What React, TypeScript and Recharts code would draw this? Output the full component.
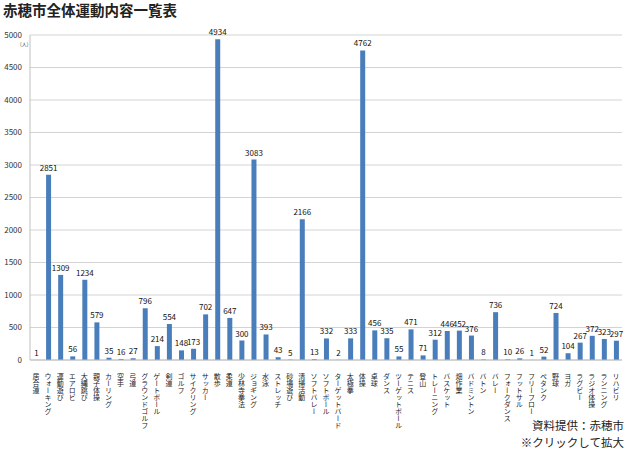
import React from 'react';
import { BarChart, Bar, XAxis, YAxis, CartesianGrid, LabelList } from 'recharts';

const categories = [
  '居合道', 'ウォーキング', '運動遊び', 'エアロビ', '大縄跳び', '親子体操', 'カーリング', '空手', '弓道',
  'グラウンドゴルフ', 'ゲートボール', '剣道', 'ゴルフ', 'サイクリング', 'サッカー', '散歩', '柔道',
  '少林寺拳法', 'ジョギング', '水泳', 'ストレッチ', '砂場遊び', '清掃活動', 'ソフトバレー', 'ソフトボール',
  'ターゲットバード', '太極拳', '体操', '卓球', 'ダンス', 'ツーゲットボール', 'テニス', '登山', 'トレーニング',
  'バスケット', '畑作業', 'バドミントン', 'バトン', 'バレー', 'フォークダンス', 'フットサル', 'フリーフロー',
  'ペタンク', '野球', 'ヨガ', 'ラグビー', 'ラジオ体操', 'ランニング', 'リハビリ',
];

const counts = [
  1, 2851, 1309, 56, 1234, 579, 35, 16, 27,
  796, 214, 554, 148, 173, 702, 4934, 647,
  300, 3083, 393, 43, 5, 2166, 13, 332,
  2, 333, 4762, 456, 335, 55, 471, 71, 312,
  446, 452, 376, 8, 736, 10, 26, 1,
  52, 724, 104, 267, 372, 323, 297,
];

const yTicks = [0, 500, 1000, 1500, 2000, 2500, 3000, 3500, 4000, 4500, 5000];

const FONT = '"Noto Sans CJK JP", "Noto Sans", sans-serif';

const data = categories.map((name, i) => ({ name, value: counts[i] }));

// vertical japanese tick labels
const VerticalTick = (props: any) => {
  const { x, y, payload } = props;
  return (
    <text
      x={x}
      y={y + 5}
      fontSize={7}
      fill="#222"
      fontFamily={FONT}
      textAnchor="start"
      style={{ writingMode: 'vertical-rl' }}
    >
      {payload.value}
    </text>
  );
};

export default function App() {
  return (
    <div style={{ position: 'absolute', left: 0, top: 0, width: 630, height: 450, background: '#fff', fontFamily: FONT }}>
      <div style={{ position: 'absolute', left: 3, top: 0, fontSize: 14.5, fontWeight: 700, color: '#222', lineHeight: '20px' }}>
        赤穂市全体運動内容一覧表
      </div>
      <div style={{ position: 'absolute', left: 20, top: 41, fontSize: 5, lineHeight: '6px', color: '#444' }}>(人)</div>
      <BarChart
        width={630}
        height={450}
        data={data}
        margin={{ top: 35, right: 8, left: 0, bottom: 0 }}
        barCategoryGap={0}
      >
        <CartesianGrid vertical={false} stroke="#d4d4d4" />
        <XAxis
          dataKey="name"
          interval={0}
          height={90}
          tick={<VerticalTick />}
          tickLine={false}
          axisLine={{ stroke: '#bfbfbf' }}
        />
        <YAxis
          width={30}
          domain={[0, 5000]}
          ticks={yTicks}
          tick={{ fontSize: 8, fill: '#333', fontFamily: FONT }}
          tickLine={false}
          axisLine={{ stroke: '#bfbfbf' }}
        />
        <Bar dataKey="value" fill="#4a7ebb" barSize={5} isAnimationActive={false}>
          <LabelList dataKey="value" position="top" offset={4} fontSize={8} fill="#111" fontFamily={FONT} />
        </Bar>
      </BarChart>
      <div style={{ position: 'absolute', right: 6, top: 417, fontSize: 11.5, color: '#222', lineHeight: '17px', textAlign: 'right' }}>
        資料提供：赤穂市
        <br />
        ※クリックして拡大
      </div>
    </div>
  );
}
